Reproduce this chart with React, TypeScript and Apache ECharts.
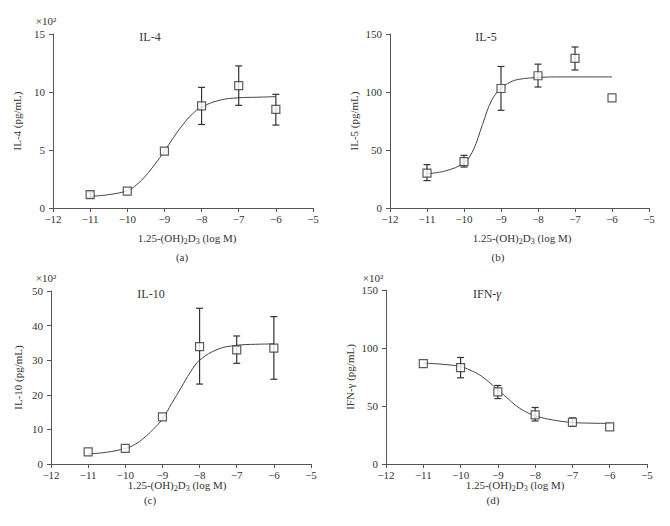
import React, { useEffect, useRef } from "react";
import * as echarts from "echarts";

const doses = [-11, -10, -9, -8, -7, -6];

const il4Mean = [1.15, 1.45, 4.9, 8.8, 10.55, 8.5];
const il4Low = [0.9, null, null, 7.2, 8.85, 7.15];
const il4High = [1.4, null, null, 10.4, 12.25, 9.8];
const il4CurveX = [-11, -10.5, -10, -9.75, -9.5, -9.25, -9, -8.75, -8.5, -8.25, -8, -7.5, -7, -6.5, -6];
const il4Curve = [1.0, 1.15, 1.5, 2.0, 2.8, 3.8, 4.9, 6.1, 7.2, 8.1, 8.7, 9.3, 9.5, 9.55, 9.6];

const il5Mean = [30, 40, 103, 114, 129, 95];
const il5Low = [23.6, 35.3, 84.2, 104.3, 119, null];
const il5High = [37.4, 45.4, 122, 124, 138.8, null];
const il5CurveX = [-11, -10.5, -10, -9.75, -9.5, -9.25, -9, -8.75, -8.5, -8, -7.5, -7, -6];
const il5Curve = [29.5, 32, 39, 50, 72, 93, 103, 108.5, 111, 112.5, 113, 113, 113];

const il10Mean = [3.5, 4.5, 13.6, 33.9, 33.0, 33.5];
const il10Low = [null, null, null, 23.1, 29.1, 24.5];
const il10High = [null, null, null, 45, 37, 42.6];
const il10CurveX = [-11, -10.5, -10, -9.75, -9.5, -9.25, -9, -8.75, -8.5, -8.25, -8, -7.5, -7, -6.5, -6];
const il10Curve = [2.9, 3.4, 4.5, 5.6, 7.5, 10, 13, 17.5, 22, 26.5, 30, 33.2, 34.3, 34.6, 34.7];

const ifnMean = [86.5, 83, 62.2, 42.3, 36, 32];
const ifnLow = [null, 74.3, 56.4, 37.1, 32.5, null];
const ifnHigh = [null, 91.8, 67.7, 48.7, 39.7, null];
const ifnCurveX = [-11, -10.5, -10, -9.75, -9.5, -9.25, -9, -8.75, -8.5, -8.25, -8, -7.5, -7, -6.5, -6];
const ifnCurve = [87, 86, 84, 81, 77, 71, 64, 57, 50, 45, 41.5, 37.8, 35.8, 35.2, 35];

const yMax = [15, 150, 50, 150];
const yInterval = [5, 50, 10, 50];
const yNames = ["IL-4 (pg/mL)", "IL-5 (pg/mL)", "IL-10 (pg/mL)", "IFN-γ (pg/mL)"];

const FONT = "Liberation Serif";
const TXT = "#333";
const AX = "#555";

const minus = (v: number) => String(v).replace("-", "\u2212");

export default function App() {
  const ref = useRef<HTMLDivElement>(null);
  useEffect(() => {
    if (!ref.current) return;
    const chart = echarts.init(ref.current, undefined, { renderer: "svg" });
    const grids = [
      { left: 53, top: 34, width: 260, height: 174 },
      { left: 390, top: 34, width: 259, height: 174 },
      { left: 51, top: 291, width: 260, height: 173 },
      { left: 386, top: 290, width: 261, height: 174 },
    ];
    const nameGaps = [31, 31, 28, 31];
    const panels = [
      { mean: il4Mean, low: il4Low, high: il4High, cx: il4CurveX, cy: il4Curve },
      { mean: il5Mean, low: il5Low, high: il5High, cx: il5CurveX, cy: il5Curve },
      { mean: il10Mean, low: il10Low, high: il10High, cx: il10CurveX, cy: il10Curve },
      { mean: ifnMean, low: ifnLow, high: ifnHigh, cx: ifnCurveX, cy: ifnCurve },
    ];
    const xAxes = grids.map((_, i) => ({
      type: "value",
      gridIndex: i,
      min: -12,
      max: -5,
      interval: 1,
      axisLine: { lineStyle: { color: AX, width: 1 } },
      axisTick: { inside: false, length: 4, lineStyle: { color: AX } },
      axisLabel: { color: TXT, fontFamily: FONT, fontSize: 11, margin: 5, formatter: minus },
      splitLine: { show: false },
    }));
    const yAxes = grids.map((_, i) => ({
      type: "value",
      gridIndex: i,
      min: 0,
      max: yMax[i],
      interval: yInterval[i],
      name: yNames[i],
      nameLocation: "middle",
      nameGap: nameGaps[i],
      nameTextStyle: { color: TXT, fontFamily: FONT, fontSize: 11 },
      axisLine: { show: true, lineStyle: { color: AX, width: 1 } },
      axisTick: { show: true, inside: false, length: 4, lineStyle: { color: AX } },
      axisLabel: { color: TXT, fontFamily: FONT, fontSize: 11, margin: 8 },
      splitLine: { show: false },
    }));
    const series: any[] = [];
    panels.forEach((p, i) => {
      series.push({
        type: "line",
        xAxisIndex: i,
        yAxisIndex: i,
        data: p.cx.map((x, k) => [x, p.cy[k]]),
        smooth: 0.4,
        showSymbol: false,
        symbol: "none",
        lineStyle: { color: "#444", width: 1 },
        z: 2,
      });
      const errData = doses
        .map((x, k) => [x, p.low[k], p.high[k]])
        .filter((d) => d[1] != null && d[2] != null);
      series.push({
        type: "custom",
        xAxisIndex: i,
        yAxisIndex: i,
        data: errData,
        z: 3,
        renderItem: (params: any, api: any) => {
          const x = api.value(0);
          const lo = api.coord([x, api.value(1)]);
          const hi = api.coord([x, api.value(2)]);
          const w = 3.5;
          const st = { stroke: "#333", lineWidth: 1.2 };
          return {
            type: "group",
            children: [
              { type: "line", shape: { x1: lo[0], y1: lo[1], x2: hi[0], y2: hi[1] }, style: st },
              { type: "line", shape: { x1: lo[0] - w, y1: lo[1], x2: lo[0] + w, y2: lo[1] }, style: st },
              { type: "line", shape: { x1: hi[0] - w, y1: hi[1], x2: hi[0] + w, y2: hi[1] }, style: st },
            ],
          };
        },
      });
      series.push({
        type: "scatter",
        xAxisIndex: i,
        yAxisIndex: i,
        data: doses.map((x, k) => [x, p.mean[k]]),
        symbol: "rect",
        symbolSize: 8,
        itemStyle: { color: "#fff", borderColor: "#333", borderWidth: 1.2 },
        z: 4,
      });
    });
    const txt = (x: number, y: number, text: string, size = 12, extra: any = {}) => ({
      type: "text",
      x,
      y,
      style: {
        text,
        fill: TXT,
        fontFamily: FONT,
        fontSize: size,
        textAlign: "center",
        textVerticalAlign: "middle",
        ...extra,
      },
    });
    const xName = (x: number, y: number) => ({
      type: "text",
      x,
      y,
      style: {
        text: "1.25-(OH){s|2}D{s|3} (log M)",
        fill: TXT,
        fontFamily: FONT,
        fontSize: 11,
        textAlign: "center",
        textVerticalAlign: "middle",
        rich: {
          s: { fontSize: 8, fontFamily: FONT, fill: TXT, padding: [6, 0, 0, 0] },
        },
      },
    });
    const graphic = [
      txt(46, 21, "×10²", 11),
      txt(46, 278, "×10²", 11),
      txt(373, 278, "×10²", 11),
      txt(150, 37, "IL-4"),
      txt(486, 37, "IL-5"),
      txt(151, 294, "IL-10"),
      {
        type: "text",
        x: 487,
        y: 294,
        style: {
          text: "IFN-{g|γ}",
          fill: TXT,
          fontFamily: FONT,
          fontSize: 12,
          textAlign: "center",
          textVerticalAlign: "middle",
          rich: { g: { fontStyle: "italic", fontSize: 12, fontFamily: FONT, fill: TXT } },
        },
      },
      xName(187, 238),
      xName(522, 238),
      xName(177, 485),
      xName(515, 485),
      txt(182, 257, "(a)", 11),
      txt(498, 257, "(b)", 11),
      txt(150, 500, "(c)", 11),
      txt(493, 500, "(d)", 11),
    ];
    chart.setOption({
      animation: false,
      backgroundColor: "#fff",
      grid: grids,
      xAxis: xAxes,
      yAxis: yAxes,
      series,
      graphic,
    });
    return () => chart.dispose();
  }, []);
  return <div ref={ref} style={{ width: 670, height: 526, position: "absolute", left: 0, top: 0 }} />;
}
